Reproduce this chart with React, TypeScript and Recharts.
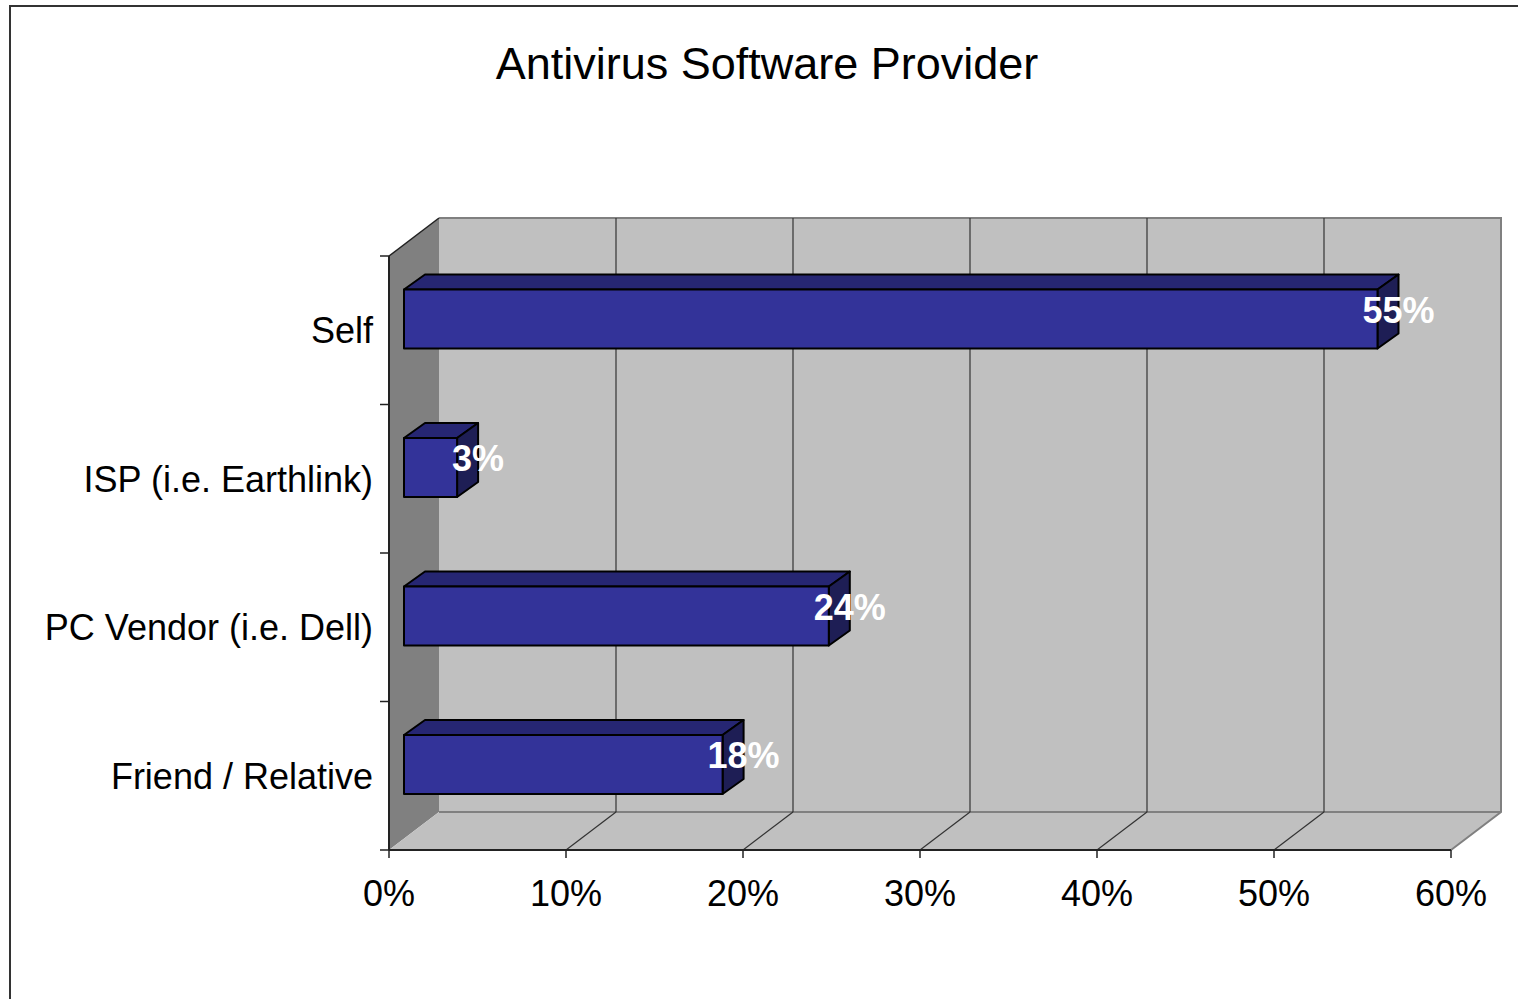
import React from "react";
import { BarChart, Bar, XAxis, YAxis, ReferenceArea, ReferenceLine, LabelList } from "recharts";

const title = "Antivirus Software Provider";
const categories = ["Self", "ISP (i.e. Earthlink)", "PC Vendor (i.e. Dell)", "Friend / Relative"];
const shares = [0.55, 0.03, 0.24, 0.18];
const xTicks = [0, 0.1, 0.2, 0.3, 0.4, 0.5, 0.6];

const data = categories.map((name, i) => ({ name, share: shares[i] }));

const FONT = '"Liberation Sans", Arial, sans-serif';

// depth of the 3d box (back wall offset from the front plane)
const WALL_DX = 50;
const WALL_DY = -38;
// bars sit a little behind the front plane and have their own depth
const BAR_SHIFT_X = 15;
const BAR_SHIFT_Y = -11;
const BAR_DX = 21;
const BAR_DY = -15;

function Walls(props: any) {
  const { x, y, width, height } = props;
  const r = x + width;
  const b = y + height;
  const n = categories.length;
  const pts = (arr: number[][]) => arr.map((p) => p.join(",")).join(" ");
  return (
    <g>
      <rect x={x + WALL_DX} y={y + WALL_DY} width={width} height={height} fill="#C0C0C0" />
      <polygon
        points={pts([[x, y], [x + WALL_DX, y + WALL_DY], [x + WALL_DX, b + WALL_DY], [x, b]])}
        fill="#808080"
      />
      <polygon
        points={pts([[x, b], [x + WALL_DX, b + WALL_DY], [r + WALL_DX, b + WALL_DY], [r, b]])}
        fill="#C0C0C0"
      />
      <polyline
        points={pts([[x + WALL_DX, y + WALL_DY], [r + WALL_DX, y + WALL_DY], [r + WALL_DX, b + WALL_DY], [r, b]])}
        fill="none"
        stroke="#808080"
        strokeWidth={2}
      />
      <line x1={x + WALL_DX} y1={b + WALL_DY} x2={r + WALL_DX} y2={b + WALL_DY} stroke="#808080" strokeWidth={2} />
      <line x1={x} y1={y} x2={x + WALL_DX} y2={y + WALL_DY} stroke="#222" strokeWidth={1.5} />
      {Array.from({ length: n + 1 }).map((_, i) => (
        <line key={i} x1={x - 9} x2={x} y1={y + (i * height) / n} y2={y + (i * height) / n} stroke="#222" strokeWidth={1.5} />
      ))}
    </g>
  );
}

function GridLine3D(props: any) {
  const { x1, y1, y2 } = props;
  const top = Math.min(y1, y2);
  const bottom = Math.max(y1, y2);
  return (
    <g>
      <line x1={x1 + WALL_DX} x2={x1 + WALL_DX} y1={top + WALL_DY} y2={bottom + WALL_DY} stroke="#333" strokeWidth={1.2} />
      <line x1={x1} y1={bottom} x2={x1 + WALL_DX} y2={bottom + WALL_DY} stroke="#333" strokeWidth={1.2} />
    </g>
  );
}

function Bar3D(props: any) {
  const { x, y, width, height } = props;
  if (width == null || height == null) return null;
  const fx = x + BAR_SHIFT_X;
  const fy = y + BAR_SHIFT_Y;
  const r = fx + width;
  const b = fy + height;
  const pts = (arr: number[][]) => arr.map((p) => p.join(",")).join(" ");
  return (
    <g stroke="#000" strokeWidth={2} strokeLinejoin="round">
      <polygon points={pts([[fx, fy], [fx + BAR_DX, fy + BAR_DY], [r + BAR_DX, fy + BAR_DY], [r, fy]])} fill="#262673" />
      <polygon points={pts([[r, fy], [r + BAR_DX, fy + BAR_DY], [r + BAR_DX, b + BAR_DY], [r, b]])} fill="#1E1E55" />
      <rect x={fx} y={fy} width={width} height={height} fill="#333399" />
    </g>
  );
}

function ValueLabel(props: any) {
  const vb = props.viewBox && props.viewBox.width != null ? props.viewBox : props;
  const { x, y, width, height } = vb;
  const cx = x + width + BAR_SHIFT_X + BAR_DX;
  const cy = y + height / 2 + BAR_SHIFT_Y + BAR_DY + 6;
  return (
    <text x={cx} y={cy} dy="0.35em" textAnchor="middle" fill="#fff" fontWeight="bold" fontSize={36} fontFamily={FONT}>
      {Math.round(props.value * 100)}%
    </text>
  );
}

export default function App() {
  return (
    <div style={{ position: "fixed", left: 0, top: 0, width: 1518, height: 999, overflow: "hidden", background: "#fff" }}>
      <div
        style={{
          position: "absolute",
          left: 9,
          top: 5,
          width: 1600,
          height: 1100,
          border: "2px solid #333",
          boxSizing: "border-box",
        }}
      />
      <div
        style={{
          position: "absolute",
          left: 267,
          top: 38,
          width: 1000,
          textAlign: "center",
          fontFamily: FONT,
          fontSize: 45,
          lineHeight: "52px",
          color: "#000",
        }}
      >
        {title}
      </div>
      <div style={{ position: "absolute", left: 0, top: 0 }}>
        <BarChart
          width={1518}
          height={999}
          data={data}
          layout="vertical"
          margin={{ top: 256, right: 67, bottom: 89, left: 0 }}
          barCategoryGap="30%"
        >
          <ReferenceArea x1={0} x2={0.6} shape={<Walls />} ifOverflow="visible" zIndex={-100} />
          {xTicks.slice(1, -1).map((t) => (
            <ReferenceLine key={t} x={t} shape={<GridLine3D />} zIndex={-90} />
          ))}
          <XAxis
            type="number"
            domain={[0, 0.6]}
            ticks={xTicks}
            interval={0}
            height={60}
            tickFormatter={(v: number) => `${Math.round(v * 100)}%`}
            axisLine={{ stroke: "#222", strokeWidth: 2 }}
            tickLine={{ stroke: "#222", strokeWidth: 1.5 }}
            tickSize={8}
            tickMargin={22}
            tick={{ fontSize: 36, fill: "#000", fontFamily: FONT }}
          />
          <YAxis
            type="category"
            dataKey="name"
            width={389}
            axisLine={{ stroke: "#222", strokeWidth: 2 }}
            tickLine={false}
            tickMargin={10}
            tick={{ fontSize: 36, fill: "#000", fontFamily: FONT }}
          />
          <Bar dataKey="share" shape={<Bar3D />} isAnimationActive={false}>
            <LabelList dataKey="share" content={<ValueLabel />} />
          </Bar>
        </BarChart>
      </div>
    </div>
  );
}
